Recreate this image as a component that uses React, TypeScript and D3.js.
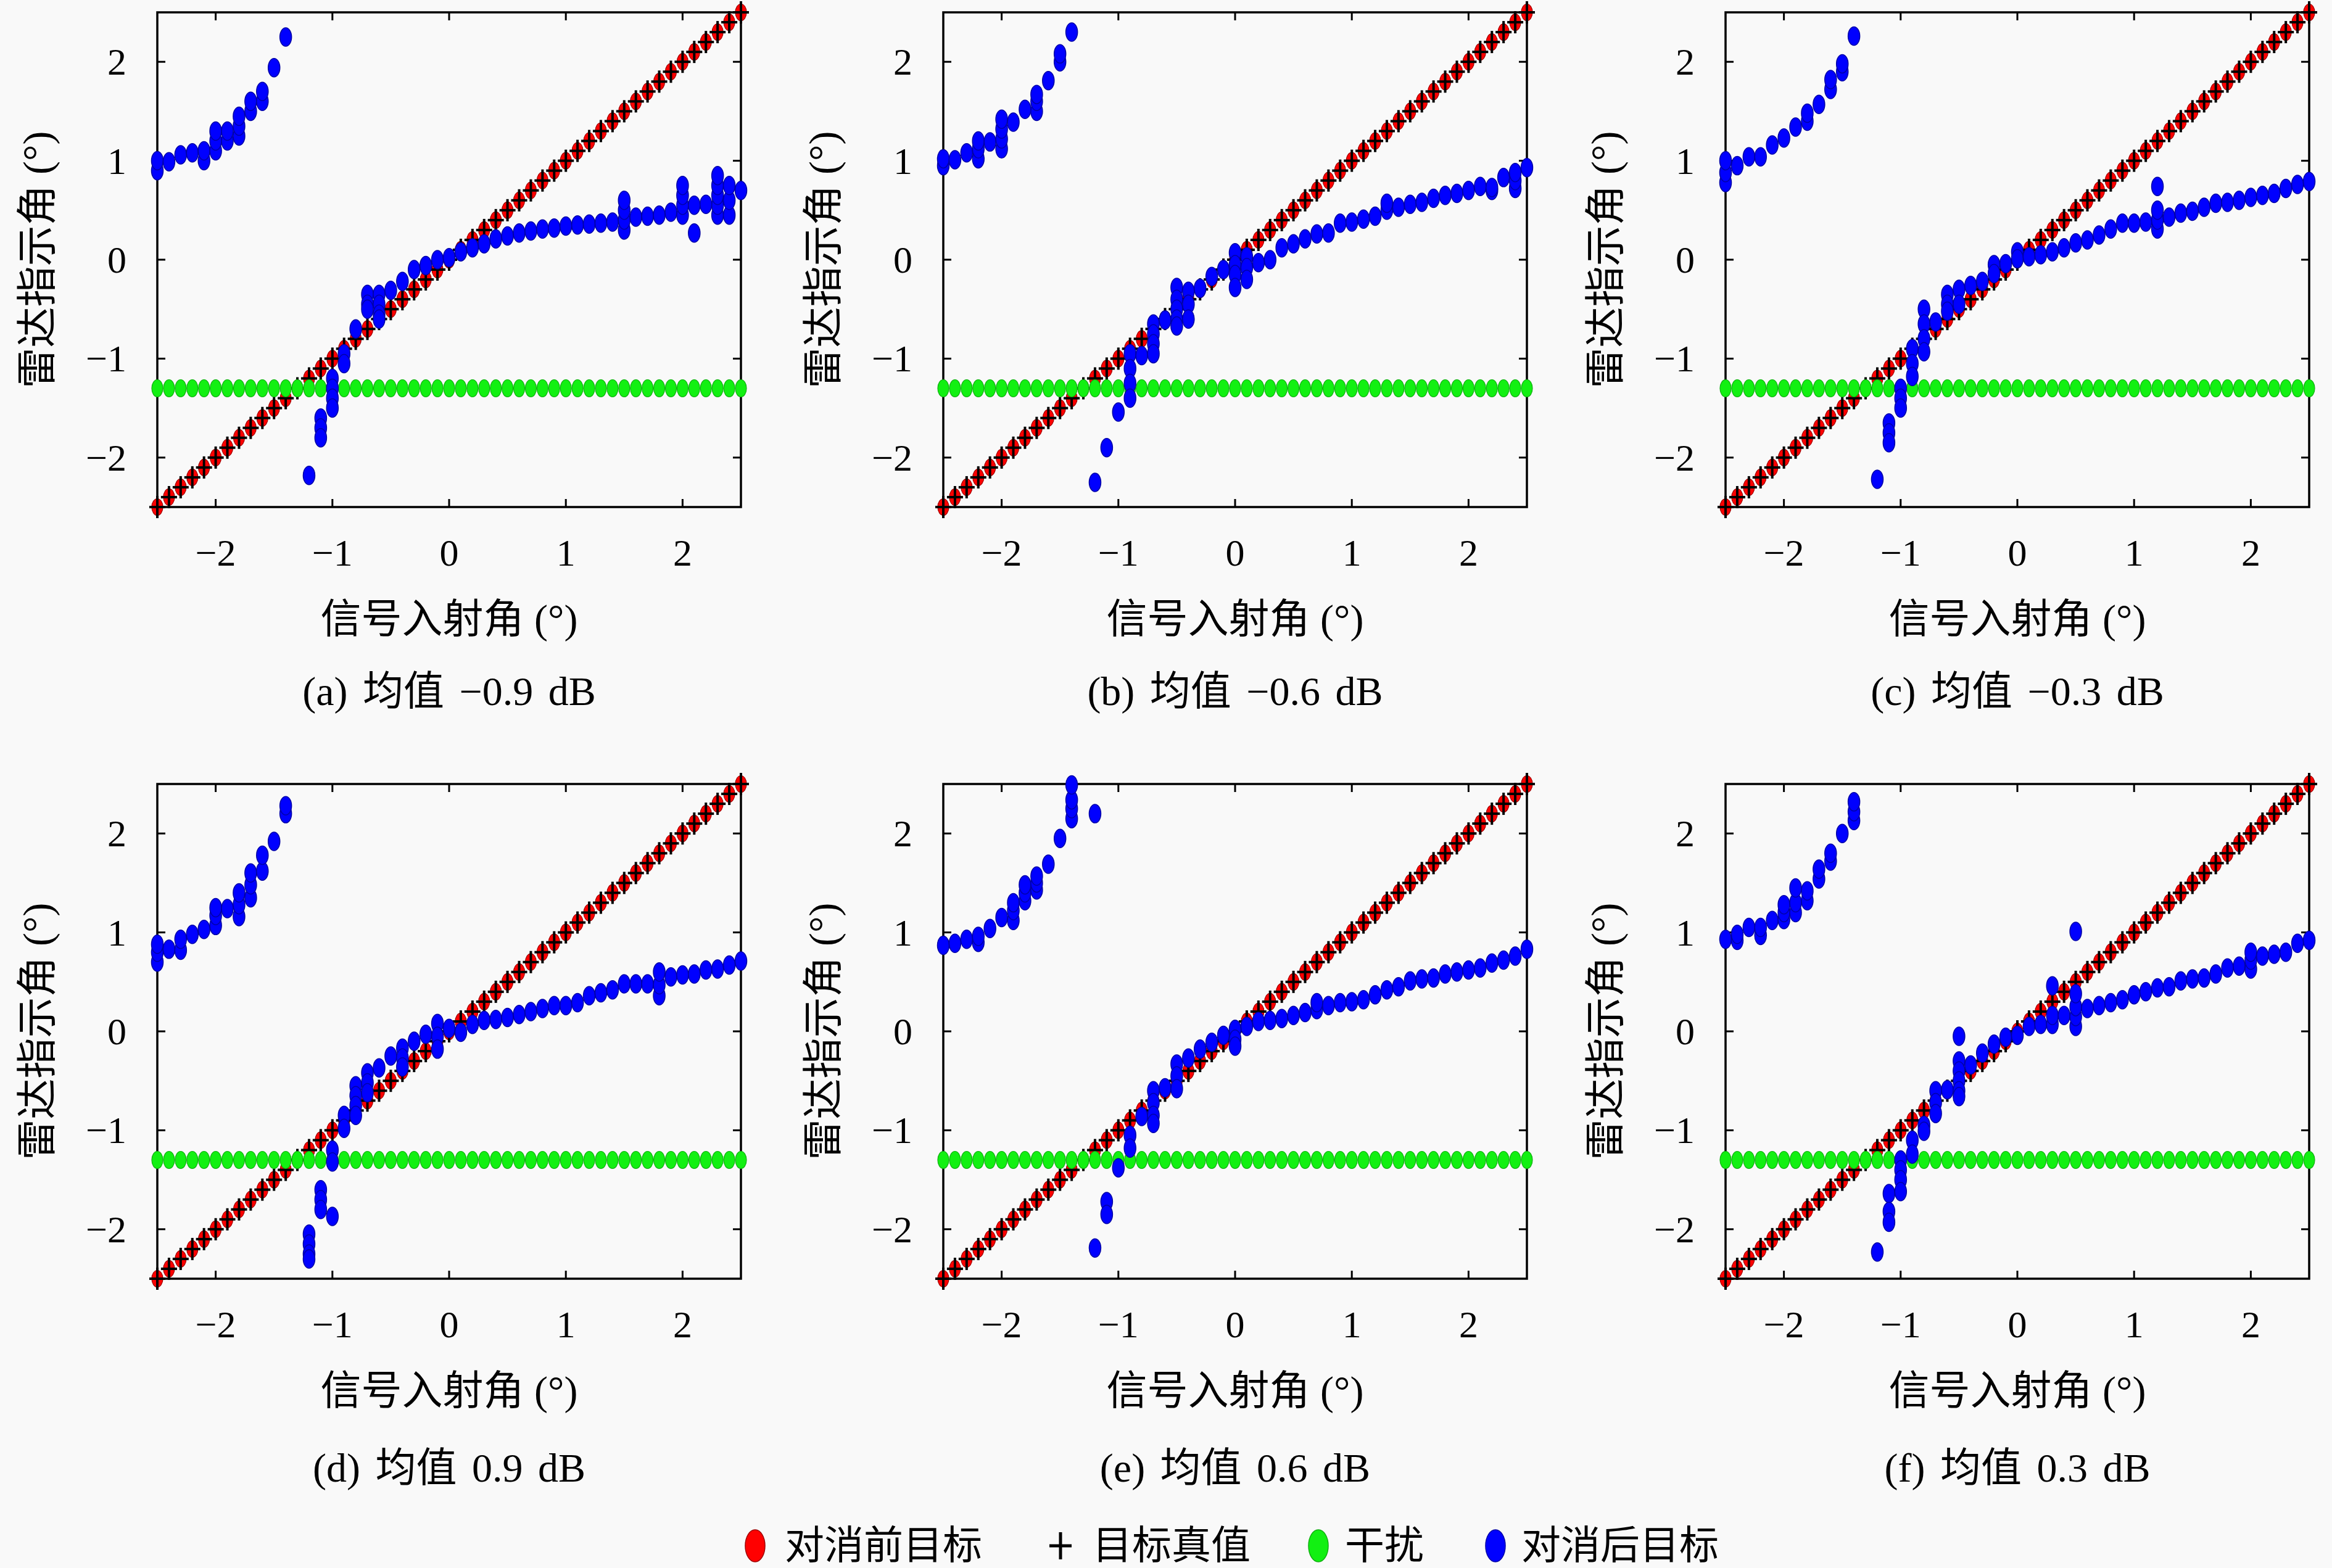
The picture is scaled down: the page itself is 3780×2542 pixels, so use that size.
import * as d3 from "d3";

// incident angle grid (deg)
const INCIDENT = [
  -2.5, -2.4, -2.3, -2.2, -2.1, -2.0, -1.9, -1.8, -1.7, -1.6, -1.5, -1.4, -1.3,
  -1.2, -1.1, -1.0, -0.9, -0.8, -0.7, -0.6, -0.5, -0.4, -0.3, -0.2, -0.1, 0,
  0.1, 0.2, 0.3, 0.4, 0.5, 0.6, 0.7, 0.8, 0.9, 1.0, 1.1, 1.2, 1.3, 1.4, 1.5,
  1.6, 1.7, 1.8, 1.9, 2.0, 2.1, 2.2, 2.3, 2.4, 2.5,
];

// target before cancellation (deg)
const BEFORE = [
  -2.5, -2.4, -2.3, -2.2, -2.1, -2.0, -1.9, -1.8, -1.7, -1.6, -1.5, -1.4, -1.3,
  -1.2, -1.1, -1.0, -0.9, -0.8, -0.7, -0.6, -0.5, -0.4, -0.3, -0.2, -0.1, 0,
  0.1, 0.2, 0.3, 0.4, 0.5, 0.6, 0.7, 0.8, 0.9, 1.0, 1.1, 1.2, 1.3, 1.4, 1.5,
  1.6, 1.7, 1.8, 1.9, 2.0, 2.1, 2.2, 2.3, 2.4, 2.5,
];

// jammer indicated angle (deg)
const JAMMER = [
  -1.3, -1.3, -1.3, -1.3, -1.3, -1.3, -1.3, -1.3, -1.3, -1.3, -1.3, -1.3, -1.3,
  -1.3, -1.3, -1.3, -1.3, -1.3, -1.3, -1.3, -1.3, -1.3, -1.3, -1.3, -1.3, -1.3,
  -1.3, -1.3, -1.3, -1.3, -1.3, -1.3, -1.3, -1.3, -1.3, -1.3, -1.3, -1.3, -1.3,
  -1.3, -1.3, -1.3, -1.3, -1.3, -1.3, -1.3, -1.3, -1.3, -1.3, -1.3, -1.3,
];

const X_TICKS = [-2, -1, 0, 1, 2];
const Y_TICKS = [-2, -1, 0, 1, 2];

// target after cancellation: one list of trial results per incident angle
const AFTER_A = [
  [0.9, 1.0], [0.99], [1.06], [1.08], [1.0, 1.1], [1.1, 1.2, 1.3], [1.2, 1.3],
  [1.25, 1.35, 1.45], [1.5, 1.6], [1.6, 1.7], [1.94], [2.25], [],
  [-2.18], [-1.6, -1.7, -1.8], [-1.2, -1.3, -1.4, -1.5], [-0.95, -1.05], [-0.7],
  [-0.35, -0.45, -0.5], [-0.35, -0.45, -0.55, -0.6], [-0.31], [-0.22], [-0.1],
  [-0.06], [0.0], [0.02],
  [0.08], [0.12], [0.16], [0.21], [0.24], [0.27], [0.29], [0.31], [0.32], [0.34],
  [0.35], [0.36], [0.37], [0.38], [0.3, 0.4, 0.5, 0.6], [0.43], [0.44], [0.45],
  [0.48], [0.45, 0.55, 0.65, 0.75], [0.27, 0.55], [0.56],
  [0.45, 0.55, 0.65, 0.75, 0.85], [0.45, 0.6, 0.75], [0.7],
];

const AFTER_B = [
  [0.95, 1.02], [1.01], [1.08], [1.02, 1.12, 1.2], [1.19], [1.12, 1.22, 1.32, 1.42],
  [1.39], [1.52], [1.5, 1.6, 1.67], [1.81], [2.0, 2.08], [2.3], [],
  [-2.25], [-1.9], [-1.54], [-0.95, -1.1, -1.25, -1.4], [-0.97],
  [-0.65, -0.75, -0.85, -0.95], [-0.61], [-0.28, -0.4, -0.5, -0.6, -0.67],
  [-0.32, -0.45, -0.6], [-0.29], [-0.17], [-0.1], [0.07, -0.05, -0.15, -0.28],
  [0.03, -0.08, -0.2], [-0.03], [0.0], [0.12], [0.16], [0.21], [0.26], [0.27],
  [0.37], [0.38], [0.41], [0.44], [0.5, 0.57], [0.53], [0.56], [0.58], [0.62],
  [0.65], [0.67], [0.7], [0.74], [0.7, 0.73], [0.83], [0.72, 0.8, 0.88], [0.93],
];

const AFTER_C = [
  [0.78, 0.88, 1.0], [0.95], [1.04], [1.04], [1.16], [1.23], [1.34], [1.4, 1.48],
  [1.57], [1.72, 1.82], [1.9, 1.98], [2.26], [],
  [-2.22], [-1.65, -1.75, -1.85], [-1.3, -1.4, -1.5], [-0.9, -1.05, -1.18],
  [-0.5, -0.65, -0.8, -0.93], [-0.63], [-0.35, -0.45, -0.52], [-0.3, -0.45],
  [-0.26], [-0.22], [-0.05, -0.14], [-0.04], [0.08, 0.01],
  [0.03], [0.05], [0.08], [0.12], [0.17], [0.2], [0.25], [0.31], [0.37], [0.37],
  [0.38], [0.31, 0.4, 0.5, 0.74], [0.43], [0.47], [0.49], [0.53], [0.57], [0.58],
  [0.6], [0.63], [0.65], [0.67], [0.72], [0.76], [0.79],
];

const AFTER_D = [
  [0.7, 0.8, 0.88], [0.83], [0.82, 0.93], [0.98], [1.03], [1.07, 1.17, 1.25],
  [1.24], [1.16, 1.28, 1.4], [1.35, 1.48, 1.6], [1.62, 1.78], [1.92], [2.2, 2.28], [],
  [-2.05, -2.15, -2.25, -2.3], [-1.6, -1.7, -1.8], [-1.2, -1.32, -1.87],
  [-0.85, -0.98], [-0.55, -0.65, -0.75, -0.85], [-0.42, -0.52, -0.62], [-0.37],
  [-0.25], [-0.17, -0.27, -0.36], [-0.1], [-0.03], [0.08, -0.05, -0.18], [0.03],
  [-0.01], [0.07], [0.11], [0.12], [0.14], [0.17], [0.2], [0.23], [0.26], [0.26],
  [0.29], [0.36], [0.39], [0.42], [0.48], [0.48], [0.48], [0.36, 0.47, 0.6],
  [0.55], [0.57], [0.58], [0.62], [0.63], [0.67], [0.71],
];

const AFTER_E = [
  [0.87], [0.89], [0.93], [0.9, 0.96], [1.04], [1.15], [1.12, 1.22, 1.3],
  [1.32, 1.4, 1.48], [1.43, 1.5, 1.57], [1.69], [1.95], [2.15, 2.25, 2.34, 2.49], [],
  [2.2, -2.19], [-1.72, -1.85], [-1.38], [-1.05, -1.18], [-0.86],
  [-0.6, -0.72, -0.85, -0.93], [-0.57], [-0.33, -0.45, -0.58], [-0.27], [-0.18],
  [-0.11], [-0.04], [0.02, -0.08, -0.15],
  [0.05], [0.1], [0.11], [0.13], [0.16], [0.19], [0.22, 0.29], [0.26], [0.29],
  [0.3], [0.32], [0.37], [0.42], [0.45], [0.51], [0.53], [0.54], [0.58], [0.6],
  [0.62], [0.64], [0.69], [0.72], [0.76], [0.83],
];

const AFTER_F = [
  [0.93], [0.92, 0.98], [1.05], [0.97, 1.05], [1.12], [1.13, 1.2, 1.28],
  [1.2, 1.3, 1.45], [1.32, 1.42], [1.54, 1.64], [1.72, 1.8], [2.0],
  [2.13, 2.22, 2.32], [],
  [-2.23], [-1.64, -1.82, -1.93], [-1.3, -1.4, -1.5, -1.62], [-1.1, -1.24],
  [-0.95, -1.01], [-0.6, -0.72, -0.83], [-0.59],
  [-0.05, -0.3, -0.4, -0.5, -0.6, -0.66], [-0.34], [-0.22], [-0.13], [-0.06],
  [-0.04], [0.05], [0.07], [0.07, 0.16, 0.46], [0.16],
  [0.05, 0.15, 0.25, 0.38, 1.01], [0.23], [0.26], [0.29], [0.32], [0.37], [0.4],
  [0.44], [0.45], [0.51], [0.53], [0.54], [0.58], [0.64], [0.66],
  [0.63, 0.72, 0.8], [0.76], [0.78], [0.8], [0.89], [0.92],
];

const CAPTIONS = [
  "(a) 均值 −0.9 dB",
  "(b) 均值 −0.6 dB",
  "(c) 均值 −0.3 dB",
  "(d) 均值 0.9 dB",
  "(e) 均值 0.6 dB",
  "(f) 均值 0.3 dB",
];
const PANEL_DATA = [AFTER_A, AFTER_B, AFTER_C, AFTER_D, AFTER_E, AFTER_F];

const X_LABEL = "信号入射角 (°)";
const Y_LABEL = "雷达指示角 (°)";
const LEGEND = ["对消前目标", "目标真值", "干扰", "对消后目标"];

const WIDTH = 3780;
const HEIGHT = 2542;
const COL_LEFT = [255, 1529, 2797];
const ROW_TOP = [20, 1271];
const CAPTION_DY = [297, 305];
const PLOT_W = 946;
const PLOT_H = 802;
const TICK = 13;
const FONT = "'Liberation Serif', 'Noto Sans CJK SC', serif";

const RED = "#ff0000";
const GREEN = "#12f012";
const BLUE = "#0000ff";

const fmt = (v: number) => (v < 0 ? "\u2212" + Math.abs(v) : String(v));

function Panel({
  left,
  top,
  after,
  caption,
  captionDy,
}: {
  left: number;
  top: number;
  after: number[][];
  caption: string;
  captionDy: number;
}) {
  const x = d3.scaleLinear().domain([-2.5, 2.5]).range([0, PLOT_W]);
  const y = d3.scaleLinear().domain([-2.5, 2.5]).range([PLOT_H, 0]);
  const blue = after.flatMap((ys, i) => ys.map((v) => [INCIDENT[i], v]));

  return (
    <g transform={`translate(${left},${top})`}>
      <rect width={PLOT_W} height={PLOT_H} fill="none" stroke="#000" strokeWidth={3.5} />
      {X_TICKS.map((t) => (
        <g key={`xt${t}`} stroke="#000" strokeWidth={3}>
          <line x1={x(t)} x2={x(t)} y1={PLOT_H} y2={PLOT_H - TICK} />
          <line x1={x(t)} x2={x(t)} y1={0} y2={TICK} />
        </g>
      ))}
      {Y_TICKS.map((t) => (
        <g key={`yt${t}`} stroke="#000" strokeWidth={3}>
          <line x1={0} x2={TICK} y1={y(t)} y2={y(t)} />
          <line x1={PLOT_W} x2={PLOT_W - TICK} y1={y(t)} y2={y(t)} />
        </g>
      ))}
      <g fontFamily={FONT} fontSize={62} fill="#000">
        {X_TICKS.map((t) => (
          <text key={`xl${t}`} x={x(t)} y={PLOT_H + 95} textAnchor="middle">
            {fmt(t)}
          </text>
        ))}
        {Y_TICKS.map((t) => (
          <text key={`yl${t}`} x={-50} y={y(t) + 21} textAnchor="end">
            {fmt(t)}
          </text>
        ))}
      </g>
      <g fontFamily={FONT} fontSize={66} fill="#000">
        <text x={PLOT_W / 2} y={PLOT_H + 204} textAnchor="middle">
          {X_LABEL}
        </text>
        <text
          transform={`translate(${-196},${PLOT_H / 2}) rotate(-90)`}
          textAnchor="middle"
          dy={24}
        >
          {Y_LABEL}
        </text>
        <text x={PLOT_W / 2} y={PLOT_H + captionDy + 24} textAnchor="middle" wordSpacing={8}>
          {caption}
        </text>
      </g>

      {/* before cancellation */}
      {INCIDENT.map((a, i) => (
        <ellipse key={`r${i}`} cx={x(a)} cy={y(BEFORE[i])} rx={9} ry={13.5}
          fill={RED} stroke="#a00000" strokeWidth={1.2} />
      ))}
      {/* ground truth */}
      {INCIDENT.map((a, i) => (
        <g key={`p${i}`} stroke="#000" strokeWidth={4}>
          <line x1={x(a) - 13} x2={x(a) + 13} y1={y(a)} y2={y(a)} />
          <line x1={x(a)} x2={x(a)} y1={y(a) - 18} y2={y(a) + 18} />
        </g>
      ))}
      {/* jammer */}
      {INCIDENT.map((a, i) => (
        <ellipse key={`g${i}`} cx={x(a)} cy={y(JAMMER[i])} rx={9} ry={14}
          fill={GREEN} stroke="#10b010" strokeWidth={1.2} />
      ))}
      {/* after cancellation */}
      {blue.map(([a, v], i) => (
        <ellipse key={`b${i}`} cx={x(a)} cy={y(v)} rx={9.5} ry={15}
          fill={BLUE} stroke="#0000a8" strokeWidth={1.5} />
      ))}
    </g>
  );
}

function Legend() {
  const cy = 2506;
  const ty = 2527;
  return (
    <g fontFamily={FONT} fontSize={64} fill="#000">
      <ellipse cx={1224} cy={cy} rx={16} ry={26} fill={RED} stroke="#a00000" strokeWidth={1.5} />
      <text x={1272} y={ty}>{LEGEND[0]}</text>
      <g stroke="#000" strokeWidth={5}>
        <line x1={1701} x2={1737} y1={cy} y2={cy} />
        <line x1={1719} x2={1719} y1={cy - 22} y2={cy + 22} />
      </g>
      <text x={1771} y={ty}>{LEGEND[1]}</text>
      <ellipse cx={2137} cy={cy} rx={16} ry={26} fill={GREEN} stroke="#10b010" strokeWidth={1.5} />
      <text x={2180} y={ty}>{LEGEND[2]}</text>
      <ellipse cx={2424} cy={cy} rx={16} ry={26} fill={BLUE} stroke="#0000a8" strokeWidth={1.5} />
      <text x={2466} y={ty}>{LEGEND[3]}</text>
    </g>
  );
}

export default function App() {
  return (
    <svg
      width={WIDTH}
      height={HEIGHT}
      viewBox={`0 0 ${WIDTH} ${HEIGHT}`}
      style={{ position: "absolute", left: 0, top: 0, background: "#f9f9f9" }}
    >
      <rect width={WIDTH} height={HEIGHT} fill="#f9f9f9" />
      {PANEL_DATA.map((after, k) => (
        <Panel
          key={k}
          left={COL_LEFT[k % 3]}
          top={ROW_TOP[Math.floor(k / 3)]}
          after={after}
          caption={CAPTIONS[k]}
          captionDy={CAPTION_DY[Math.floor(k / 3)]}
        />
      ))}
      <Legend />
    </svg>
  );
}
